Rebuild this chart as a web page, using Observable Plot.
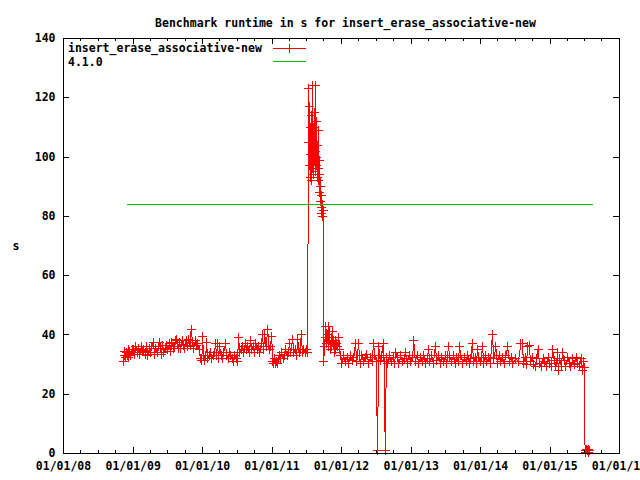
<!DOCTYPE html>
<html>
<head>
<meta charset="utf-8">
<script src="https://cdn.jsdelivr.net/npm/d3@7"></script>
<script src="https://cdn.jsdelivr.net/npm/@observablehq/plot@0.6"></script>
<style>
  html, body { margin: 0; padding: 0; background: #fff; }
  #chart svg path, #chart svg line, #chart svg rect { shape-rendering: crispEdges; }
</style>
</head>
<body>
<div id="chart"></div>
<script>
const title = "Benchmark runtime in s for insert_erase_associative-new";
const seriesName = "insert_erase_associative-new";
const refName = "4.1.0";
const yLabel = "s";

const yTicks = [0, 20, 40, 60, 80, 100, 120, 140];
const xTickYears = ["2008-01-01","2009-01-01","2010-01-01","2011-01-01","2012-01-01","2013-01-01","2014-01-01","2015-01-01","2016-01-01"];

const runDates = [
"2008-11-10","2008-11-14","2008-11-18","2008-11-22","2008-11-26","2008-12-01","2008-12-05","2008-12-10","2008-12-15","2008-12-20","2008-12-26",
"2009-01-02","2009-01-09","2009-01-16","2009-01-23","2009-01-30","2009-02-06","2009-02-13","2009-02-20","2009-02-27","2009-03-06","2009-03-13","2009-03-20","2009-03-27","2009-04-03","2009-04-10","2009-04-17","2009-04-24","2009-05-01","2009-05-08","2009-05-15","2009-05-22","2009-05-29","2009-06-05","2009-06-12","2009-06-19","2009-06-26",
"2009-07-03","2009-07-10","2009-07-17","2009-07-24","2009-07-31","2009-08-07","2009-08-14","2009-08-18","2009-08-25","2009-09-01","2009-09-08","2009-09-15","2009-09-22","2009-09-29","2009-10-06","2009-10-13","2009-10-20","2009-10-27","2009-11-02","2009-11-09","2009-11-16","2009-11-23","2009-11-30","2009-12-07","2009-12-14","2009-12-21","2009-12-28",
"2010-01-01","2010-01-06","2010-01-12","2010-01-18","2010-01-22","2010-01-28","2010-02-04","2010-02-11","2010-02-18","2010-02-25","2010-03-04","2010-03-10","2010-03-16","2010-03-20","2010-03-26","2010-04-01","2010-04-08","2010-04-15","2010-04-22","2010-05-01","2010-05-08","2010-05-15","2010-05-22","2010-05-29","2010-06-05","2010-06-12","2010-06-19","2010-06-26","2010-07-03","2010-07-09","2010-07-16","2010-07-23","2010-07-30","2010-08-06","2010-08-13","2010-08-20","2010-08-27","2010-09-03","2010-09-10","2010-09-17","2010-09-24","2010-10-01","2010-10-08","2010-10-15","2010-10-22","2010-10-29","2010-11-05","2010-11-12","2010-11-17","2010-11-24","2010-12-01","2010-12-09","2010-12-16","2010-12-23","2010-12-30",
"2011-01-05","2011-01-10","2011-01-15","2011-01-20","2011-01-25","2011-02-01","2011-02-07","2011-02-14","2011-02-21","2011-02-28","2011-03-07","2011-03-14","2011-03-21","2011-03-28","2011-04-02","2011-04-09","2011-04-19","2011-04-26","2011-05-03","2011-05-10","2011-05-16","2011-05-23","2011-05-30","2011-06-03","2011-06-10","2011-06-17","2011-06-24","2011-07-01","2011-07-07",
"2011-07-12","2011-07-14","2011-07-16","2011-07-18","2011-07-20","2011-07-22","2011-07-24","2011-07-26","2011-07-28","2011-07-30","2011-08-01","2011-08-03","2011-08-05","2011-08-07","2011-08-09","2011-08-11","2011-08-13","2011-08-15","2011-08-17","2011-08-19","2011-08-21","2011-08-23","2011-08-25","2011-08-27","2011-08-29","2011-08-31","2011-09-02","2011-09-04","2011-09-06","2011-09-08","2011-09-10","2011-09-12","2011-09-14","2011-09-16","2011-09-18","2011-09-20","2011-09-22","2011-09-24","2011-09-26",
"2011-09-30","2011-10-03","2011-10-07","2011-10-11","2011-10-15","2011-10-19","2011-10-23","2011-10-27","2011-10-31","2011-11-04","2011-11-08","2011-11-12","2011-11-16","2011-11-20","2011-11-24","2011-11-28","2011-12-03","2011-12-08","2011-12-13","2011-12-18","2011-12-23","2011-12-28",
"2012-01-03","2012-01-12","2012-01-21","2012-01-30","2012-02-08","2012-02-17","2012-02-26","2012-03-06","2012-03-14","2012-03-22","2012-03-30","2012-04-08","2012-04-17","2012-04-26","2012-05-05","2012-05-14","2012-05-23","2012-06-01","2012-06-10","2012-06-17","2012-06-25","2012-07-02","2012-07-08","2012-07-15","2012-07-22","2012-07-30","2012-08-07","2012-08-12","2012-08-18","2012-08-24","2012-09-01","2012-09-10","2012-09-19","2012-09-28","2012-10-06","2012-10-12","2012-10-20","2012-10-29","2012-11-07","2012-11-16","2012-11-25","2012-12-03","2012-12-12","2012-12-21","2012-12-30",
"2013-01-08","2013-01-15","2013-01-23","2013-02-01","2013-02-10","2013-02-19","2013-02-28","2013-03-09","2013-03-18","2013-03-26","2013-04-02","2013-04-10","2013-04-19","2013-04-28","2013-05-08","2013-05-16","2013-05-25","2013-06-03","2013-06-12","2013-06-21","2013-06-30","2013-07-08","2013-07-16","2013-07-24","2013-08-02","2013-08-11","2013-08-20","2013-08-29","2013-09-06","2013-09-12","2013-09-20","2013-09-29","2013-10-08","2013-10-17","2013-10-26","2013-11-04","2013-11-11","2013-11-18","2013-11-26","2013-12-04","2013-12-10","2013-12-16","2013-12-23","2013-12-30",
"2014-01-05","2014-01-11","2014-01-18","2014-01-26","2014-02-03","2014-02-12","2014-02-21","2014-03-04","2014-03-12","2014-03-22","2014-03-30","2014-04-08","2014-04-17","2014-04-26","2014-05-05","2014-05-14","2014-05-23","2014-06-01","2014-06-10","2014-06-20","2014-07-05","2014-07-18","2014-08-01","2014-08-08","2014-08-15","2014-08-23","2014-08-30","2014-09-05","2014-09-13","2014-09-21","2014-09-29","2014-10-08","2014-10-17","2014-10-24","2014-10-30","2014-11-07","2014-11-16","2014-11-25","2014-12-04","2014-12-13","2014-12-22","2014-12-31",
"2015-01-08","2015-01-15","2015-01-23","2015-02-01","2015-02-10","2015-02-13","2015-02-20","2015-03-01","2015-03-08","2015-03-16","2015-03-25","2015-04-03","2015-04-12","2015-04-21","2015-04-30","2015-05-09","2015-05-18","2015-05-27","2015-06-05","2015-06-13","2015-06-20","2015-06-25","2015-07-01","2015-07-04","2015-07-08","2015-07-12","2015-07-16","2015-07-20","2015-07-24","2015-07-28"
];

const runValues = [
31,33,34.5,32.5,34,33,35,32.5,34.5,33,35,
35,33.5,36,34,35.5,33.5,36,34.5,35,33.5,36,33,35.5,34,36,37.5,33.5,35.5,34,36,37.5,33.5,36.5,34,35.5,36.5,
35,37,34.5,37.5,35.5,36,38,38.5,35.5,37.5,35.5,38,36.5,35.5,38,36,38.5,36.5,42,37.5,35.5,38,36.5,37,35,32,31.5,
39.5,33,31.5,33,37.5,32,33,34,32,33,34,37,33,37,32,36,33,32,34,37,33,32,34,33,32,31,33,32,31,39,34,35,36,34,37,35,36,34,38,35,36,34,37,35,36,34,37,40,35,40,36,42,35,36,39.5,
31,30.5,32,30.5,31,30.5,33,32,34,32,33,35,33,34,37,34,38.5,34,35,33,38.5,34,35,40,34,35,34,35,34,
123,105,97,117,93,110,101,92,114,98,124,96,104,94,110,99,115,102,95,124,100,112,97,93,104,96,109,92,99,88,94,85,90,83,87,81,84,80,82,
31,36,39,43,37,40,36,43,38,35,39,36,41,37,34,38,35,37,36,39,35,33,
30.5,33,31,32.5,30.5,33,31.5,32.5,37,31,37,30.5,33,31,32.5,33.5,30.5,32.5,31,37,33,31,1,36,31.5,33,37,31,1,32.5,30.5,33,31,32.5,30.5,34,32.5,30.5,33,31,32,34,30.5,33,31,
32.5,38,31,33,30.5,32.5,31,33,30.5,32,35,31,33,30.5,36,31.5,33,30.5,32.5,31,33,30.5,36,32.5,31,33,30.5,32.5,31,36,33,30.5,32.5,31,33,30.5,32,37,31,32.5,30.5,35,32.5,31,
32.5,36,30.5,33,31,32.5,30.5,40,32,36,30.5,33,31,32.5,30.5,33,36,31,32.5,30.5,32,31,37,37,30.5,32.5,30,36,36.5,31,32.5,30,29.5,32,35,30.5,29.5,32,31,29.5,32.5,30.5,
29.5,35,31.5,29.5,34,28,32,29.5,34,31.5,29.5,32.5,30.5,29.5,32,30,32.5,30.5,29.5,32,28,31,29,1,0.5,1.5,1,0.5,1.5,1
];

const refDates = ["2008-12-02", "2015-08-12"];
const refValues = [84, 84];

const parse = d3.utcParse("%Y-%m-%d");
const run = runDates.map((d, i) => ({date: parse(d), value: runValues[i]}));
const ref = refDates.map((d, i) => ({date: parse(d), value: refValues[i]}));
const majorTicks = xTickYears.map(parse);
const minorTicks = d3.utcMonth.every(3).range(majorTicks[0], majorTicks[majorTicks.length - 1]);

const W = 640, H = 480;
const mL = 63, mR = 21, mT = 38, mB = 27;
const fw = W - mL - mR, fh = H - mT - mB;
const red = "#ff0000", green = "#00c000";
const font = "'DejaVu Sans Mono', 'Liberation Mono', monospace";

// gnuplot-style "+" point: two strokes, half-length equal to the dot radius
const gnuPlus = {
  draw(context, size) {
    const r = Math.sqrt(size / Math.PI);
    context.moveTo(-r, 0); context.lineTo(r, 0);
    context.moveTo(0, -r); context.lineTo(0, r);
  }
};

const chart = Plot.plot({
  width: W,
  height: H,
  marginLeft: mL,
  marginRight: mR,
  marginTop: mT,
  marginBottom: mB,
  style: {fontFamily: font, fontSize: "11.5px", fontWeight: "bold", background: "#fff", color: "#000"},
  x: {type: "utc", domain: [majorTicks[0], majorTicks[majorTicks.length - 1]]},
  y: {domain: [0, 140]},
  marks: [
    Plot.line(run, {x: "date", y: "value", stroke: red, strokeWidth: 1}),
    Plot.dot(run, {x: "date", y: "value", symbol: gnuPlus, r: 4.5, stroke: red, fill: "none", strokeWidth: 1}),
    Plot.line(ref, {x: "date", y: "value", stroke: green, strokeWidth: 1}),
    Plot.frame({stroke: "#000", strokeWidth: 1}),
    // inward ticks, all four sides
    Plot.tickX(majorTicks, {x: d => d, insetTop: fh - 6, stroke: "#000"}),
    Plot.tickX(majorTicks, {x: d => d, insetBottom: fh - 6, stroke: "#000"}),
    Plot.tickX(minorTicks, {x: d => d, insetTop: fh - 3, stroke: "#000"}),
    Plot.tickX(minorTicks, {x: d => d, insetBottom: fh - 3, stroke: "#000"}),
    Plot.tickY(yTicks, {y: d => d, insetRight: fw - 6, stroke: "#000"}),
    Plot.tickY(yTicks, {y: d => d, insetLeft: fw - 6, stroke: "#000"}),
    Plot.axisX({ticks: majorTicks, tickSize: 0, tickPadding: 8, tickFormat: d3.utcFormat("%m/%d/%y"), label: null, fontSize: 11.5}),
    Plot.axisY({ticks: yTicks, tickSize: 0, tickPadding: 8, label: null, fontSize: 11.5}),
    Plot.text([title], {frameAnchor: "top", dx: 4, dy: -20, text: d => d, fontSize: 11.5}),
    Plot.text([yLabel], {frameAnchor: "left", dx: -51, dy: 0, text: d => d, fontSize: 11.5})
  ]
});

// legend (gnuplot style, top-left inside the frame)
const svg = d3.select(chart);
const lg = svg.append("g").attr("font-family", font).attr("font-size", "11.5px").attr("font-weight", "bold").attr("text-anchor", "start");
const rows = [{name: seriesName, color: red, cross: true}, {name: refName, color: green, cross: false}];
rows.forEach((r, i) => {
  const y = mT + 10 + i * 13.5;
  lg.append("text").attr("x", mL + 5).attr("y", y).attr("dy", "0.35em").attr("fill", "#000").attr("text-anchor", "start").text(r.name);
  lg.append("line").attr("x1", 273).attr("x2", 306).attr("y1", y).attr("y2", y).attr("stroke", r.color);
  if (r.cross) {
    lg.append("path").attr("d", `M285,${y}h9M289.5,${y - 4.5}v9`).attr("stroke", r.color).attr("fill", "none");
  }
});

document.getElementById("chart").appendChild(chart);
</script>
</body>
</html>
